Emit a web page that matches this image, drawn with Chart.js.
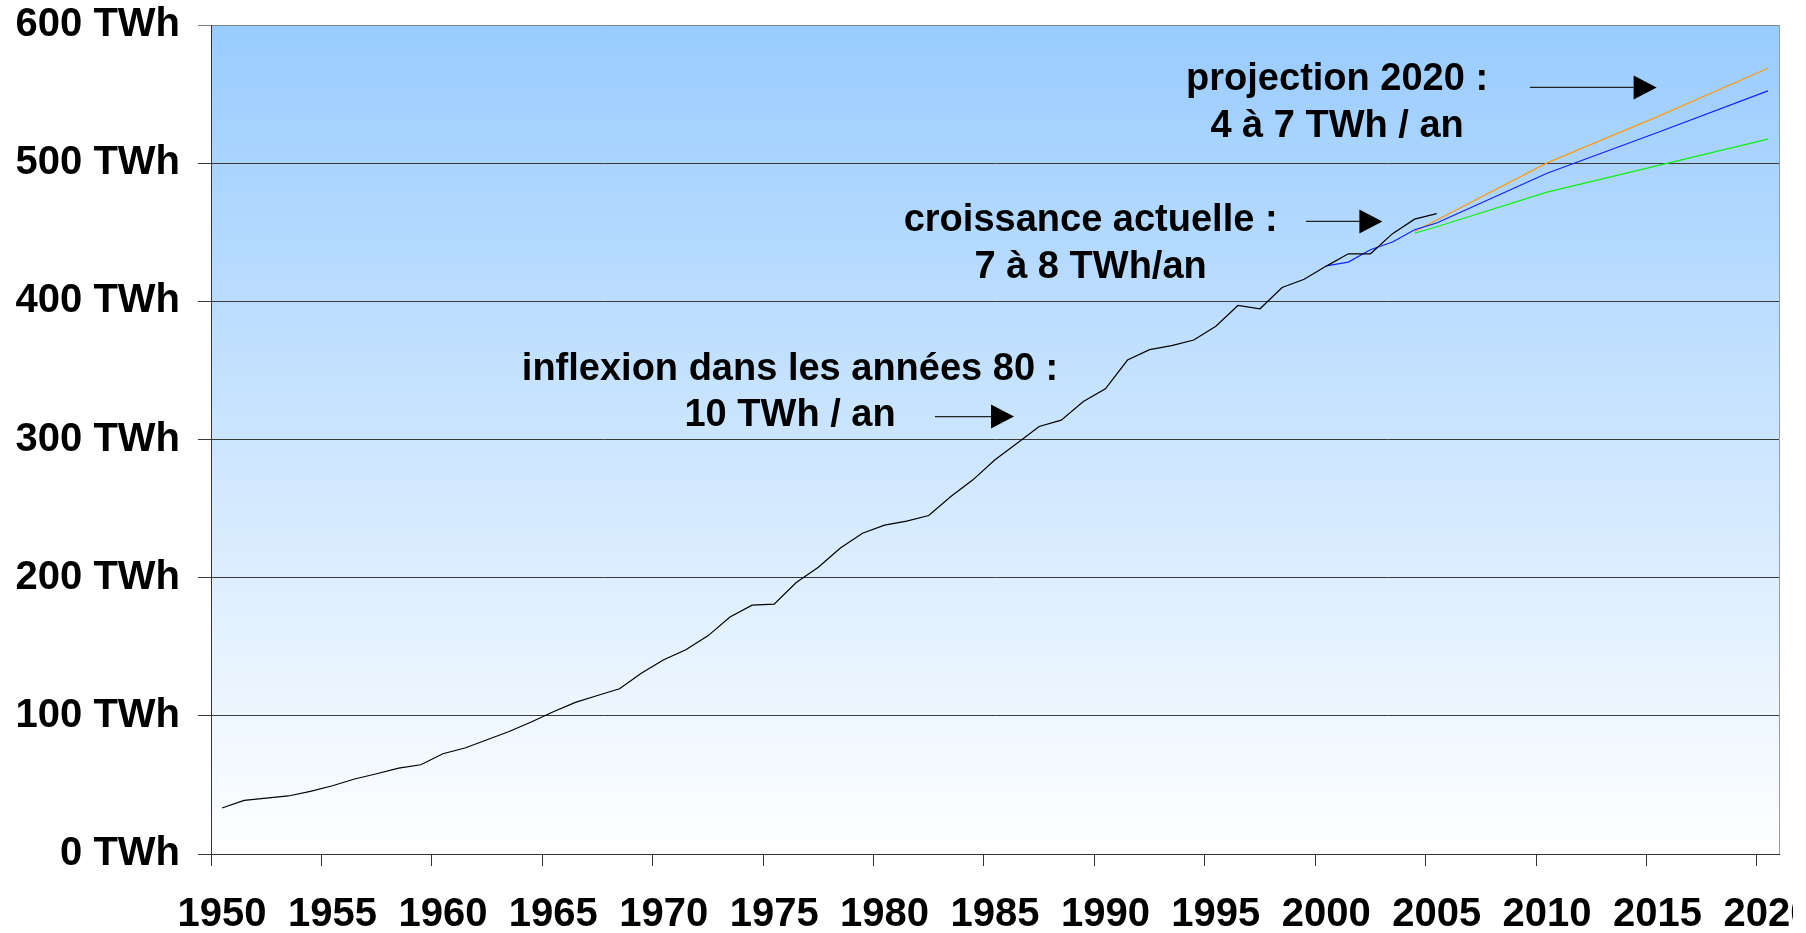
<!DOCTYPE html>
<html>
<head>
<meta charset="utf-8">
<script src="https://cdn.jsdelivr.net/npm/chart.js@4.4.1/dist/chart.umd.min.js"></script>
<style>
  html, body { margin: 0; padding: 0; background: #fff; overflow: hidden; }
  #wrap { width: 1793px; height: 933px; overflow: hidden; }
</style>
</head>
<body>
<div id="wrap"><canvas id="chart" width="1830" height="933"></canvas></div>
<script>
// categories on the x axis
const axisYears = [];
for (let y = 1950; y <= 2020; y++) axisYears.push(String(y));

// consommation d'électricité, TWh
const histYears = [1950, 1951, 1952, 1953, 1954, 1955, 1956, 1957, 1958, 1959,
  1960, 1961, 1962, 1963, 1964, 1965, 1966, 1967, 1968, 1969,
  1970, 1971, 1972, 1973, 1974, 1975, 1976, 1977, 1978, 1979,
  1980, 1981, 1982, 1983, 1984, 1985, 1986, 1987, 1988, 1989,
  1990, 1991, 1992, 1993, 1994, 1995, 1996, 1997, 1998, 1999,
  2000, 2001, 2002, 2003, 2004, 2005];
const histValues = [33.3, 38.8, 40.5, 42, 45.3, 49.4, 54.3, 58.1, 62.2, 64.6,
  72.6, 76.7, 82.7, 88.7, 95.5, 103, 109.7, 114.7, 119.6, 131,
  140.6, 147.8, 157.9, 171.5, 180.1, 180.9, 196.5, 207.6, 221.4, 232.2,
  238, 240.9, 245, 258.7, 270.8, 285.3, 297.3, 309.4, 314, 327.5,
  336.7, 357.5, 365, 368, 372, 382, 397, 394.6, 410, 416,
  425.5, 434.4, 434.4, 449, 459.5, 463.5];

// projections
const blueYears = [2000, 2001, 2002, 2003, 2004, 2005, 2010, 2015, 2020];
const blueValues = [425.7, 428.4, 437.3, 442.9, 451.8, 456.7, 492.7, 522.2, 552.3];
const orangeYears = [2004, 2010, 2015, 2020];
const orangeValues = [450.5, 500.2, 533.7, 568.7];
const greenYears = [2004, 2005, 2010, 2015, 2020];
const greenValues = [449.3, 454, 479, 498.2, 517.4];

const yTicks = [0, 100, 200, 300, 400, 500, 600];

// annotations, placed in chart units (year, TWh)
const notes = [
  { lines: ['inflexion dans les années 80 :', '10 TWh / an'], year: 1975.72, baselines: [343.3, 310.0],
    arrow: { from: 1982.28, to: 1985.86, value: 316.6 } },
  { lines: ['croissance actuelle :', '7 à 8 TWh/an'], year: 1989.33, baselines: [450.9, 416.9],
    arrow: { from: 1999.08, to: 2002.54, value: 457.8 } },
  { lines: ['projection 2020 :', '4 à 7 TWh / an'], year: 2000.49, baselines: [552.6, 518.9],
    arrow: { from: 2009.22, to: 2014.96, value: 554.8 } }
];

const toPoints = (xs, ys) => xs.map((x, i) => ({ x: String(x), y: ys[i] }));

const FONT = "'Liberation Sans', Arial, sans-serif";
Chart.defaults.font.family = FONT;

const plotDecor = {
  id: 'plotDecor',
  beforeDraw(chart) {
    const { ctx, chartArea: a } = chart;
    const g = ctx.createLinearGradient(0, a.top, 0, a.bottom);
    g.addColorStop(0, '#99CCFF');
    g.addColorStop(1, '#FFFFFF');
    ctx.save();
    ctx.fillStyle = g;
    ctx.fillRect(a.left, a.top, a.right - a.left, a.bottom - a.top);
    ctx.restore();
  },
  afterDraw(chart) {
    const { ctx, chartArea: a } = chart;
    const xs = chart.scales.x, ys = chart.scales.y;
    const px = yr => xs.getPixelForValue(yr - 1950);
    ctx.save();
    // right border
    ctx.strokeStyle = '#999';
    ctx.lineWidth = 1;
    ctx.beginPath();
    ctx.moveTo(Math.round(a.right) + 0.5, a.top);
    ctx.lineTo(Math.round(a.right) + 0.5, a.bottom);
    ctx.stroke();

    ctx.font = 'bold 38px ' + FONT;
    ctx.fillStyle = '#000';
    ctx.textAlign = 'center';
    ctx.textBaseline = 'alphabetic';
    notes.forEach(n => {
      n.lines.forEach((t, i) => ctx.fillText(t, px(n.year), ys.getPixelForValue(n.baselines[i])));
      const x1 = px(n.arrow.from), x2 = px(n.arrow.to), y = ys.getPixelForValue(n.arrow.value);
      ctx.strokeStyle = '#222';
      ctx.lineWidth = 1.3;
      ctx.beginPath();
      ctx.moveTo(x1, y);
      ctx.lineTo(x2 - 23, y);
      ctx.stroke();
      ctx.beginPath();
      ctx.moveTo(x2, y);
      ctx.lineTo(x2 - 23, y - 12);
      ctx.lineTo(x2 - 23, y + 12);
      ctx.closePath();
      ctx.fill();
    });
    ctx.restore();
  }
};

new Chart(document.getElementById('chart'), {
  type: 'line',
  data: {
    labels: axisYears,
    datasets: [
      { label: 'historique', data: toPoints(histYears, histValues), borderColor: '#000', borderWidth: 1.2 },
      { label: 'tendance', data: toPoints(blueYears, blueValues), borderColor: '#1020FF', borderWidth: 1.2 },
      { label: 'haute', data: toPoints(orangeYears, orangeValues), borderColor: '#FF9A10', borderWidth: 1.2 },
      { label: 'basse', data: toPoints(greenYears, greenValues), borderColor: '#10F010', borderWidth: 1.2 }
    ]
  },
  options: {
    responsive: false,
    animation: false,
    layout: { padding: { top: 25, right: 51, bottom: 0, left: 0 } },
    elements: { point: { radius: 0 }, line: { tension: 0 } },
    plugins: { legend: { display: false }, tooltip: { enabled: false } },
    scales: {
      x: {
        type: 'category',
        offset: true,
        afterFit: s => { s.height = 79; s.paddingLeft = 0; s.paddingRight = 0; },
        grid: {
          offset: true,
          drawOnChartArea: false,
          tickLength: 12,
          tickColor: c => (c.index !== undefined && c.index % 5 === 0 ? '#333' : 'rgba(0,0,0,0)')
        },
        border: { color: '#333', width: 1 },
        ticks: {
          autoSkip: false,
          maxRotation: 0,
          minRotation: 0,
          padding: 25,
          color: '#000',
          font: { size: 40, weight: 'bold' },
          callback: function (v, i) { const l = axisYears[i]; return Number(l) % 5 === 0 ? l : ''; }
        }
      },
      y: {
        min: 0,
        max: 600,
        afterFit: s => { s.width = 211; s.paddingTop = 0; s.paddingBottom = 0; },
        afterBuildTicks: s => { s.ticks = yTicks.map(v => ({ value: v })); },
        grid: {
          color: c => (c.tick && c.tick.value === 600 ? '#808080' : '#3a3a3a'),
          tickLength: 13,
          lineWidth: 1
        },
        border: { color: '#333', width: 1 },
        ticks: {
          padding: 18,
          color: '#000',
          font: { size: 40, weight: 'bold' },
          callback: v => v + ' TWh'
        }
      }
    }
  },
  plugins: [plotDecor]
});
</script>
</body>
</html>
